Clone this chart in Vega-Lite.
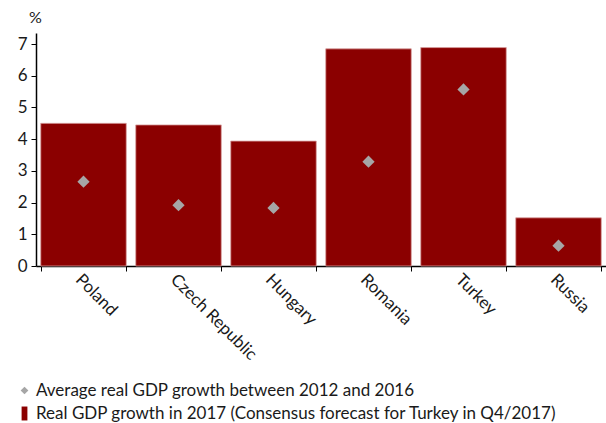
{
  "$schema": "https://vega.github.io/schema/vega-lite/v6.json",
  "width": 570,
  "height": 233,
  "autosize": {"type": "none"},
  "padding": {"left": 36, "top": 33, "right": 0, "bottom": 157},
  "background": "white",
  "config": {
    "view": {"stroke": null},
    "font": "Lato",
    "axis": {"labelFont": "Lato", "titleFont": "Lato", "labelColor": "#1a1a1a", "titleColor": "#1a1a1a", "grid": false, "domainColor": "#000", "tickColor": "#000"},
    "legend": {"labelFont": "Lato", "labelColor": "#1a1a1a"}
  },
  "data": {
    "values": [
      {"country": "Poland", "series": "Real GDP growth in 2017 (Consensus forecast for Turkey in Q4/2017)", "value": 4.50},
      {"country": "Czech Republic", "series": "Real GDP growth in 2017 (Consensus forecast for Turkey in Q4/2017)", "value": 4.45},
      {"country": "Hungary", "series": "Real GDP growth in 2017 (Consensus forecast for Turkey in Q4/2017)", "value": 3.94},
      {"country": "Romania", "series": "Real GDP growth in 2017 (Consensus forecast for Turkey in Q4/2017)", "value": 6.85},
      {"country": "Turkey", "series": "Real GDP growth in 2017 (Consensus forecast for Turkey in Q4/2017)", "value": 6.89},
      {"country": "Russia", "series": "Real GDP growth in 2017 (Consensus forecast for Turkey in Q4/2017)", "value": 1.52},
      {"country": "Poland", "series": "Average real GDP growth between 2012 and 2016", "value": 2.66},
      {"country": "Czech Republic", "series": "Average real GDP growth between 2012 and 2016", "value": 1.92},
      {"country": "Hungary", "series": "Average real GDP growth between 2012 and 2016", "value": 1.83},
      {"country": "Romania", "series": "Average real GDP growth between 2012 and 2016", "value": 3.29},
      {"country": "Turkey", "series": "Average real GDP growth between 2012 and 2016", "value": 5.57},
      {"country": "Russia", "series": "Average real GDP growth between 2012 and 2016", "value": 0.64}
    ]
  },
  "encoding": {
    "x": {
      "field": "country", "type": "nominal", "sort": null,
      "scale": {"paddingInner": 0.1, "paddingOuter": 0.05},
      "axis": {"title": null, "labelAngle": 45, "labelAlign": "left", "labelBaseline": "top", "labelFontSize": 17, "labelPadding": 0, "tickBand": "extent", "tickSize": 5, "domainWidth": 1.5}
    },
    "y": {
      "field": "value", "type": "quantitative",
      "scale": {"domain": [0, 7.35], "nice": false},
      "axis": {"values": [0, 1, 2, 3, 4, 5, 6, 7], "title": "%", "titleAngle": 0, "titleX": -1, "titleY": -8, "titleAlign": "center", "titleBaseline": "bottom", "titleFontSize": 16, "titleFontWeight": "normal", "labelFontSize": 17, "labelPadding": 4, "tickSize": 5, "domainWidth": 1.5}
    },
    "color": {
      "field": "series", "type": "nominal",
      "scale": {"domain": ["Average real GDP growth between 2012 and 2016", "Real GDP growth in 2017 (Consensus forecast for Turkey in Q4/2017)"], "range": ["#A6A6A6", "#8B0000"]},
      "legend": {"title": null, "orient": "none", "legendX": -20, "legendY": 349, "direction": "vertical", "labelFontSize": 17, "labelLimit": 0, "rowPadding": 5, "symbolSize": 60, "labelOffset": 3, "symbolStrokeWidth": 0}
    }
  },
  "layer": [
    {
      "transform": [{"filter": "datum.series === 'Real GDP growth in 2017 (Consensus forecast for Turkey in Q4/2017)'"}],
      "mark": {"type": "bar", "stroke": "#d8a0a0", "strokeWidth": 0.8}
    },
    {
      "transform": [{"filter": "datum.series === 'Average real GDP growth between 2012 and 2016'"}],
      "mark": {"type": "point", "filled": true, "opacity": 1, "size": 150},
      "encoding": {
        "shape": {
          "field": "series", "type": "nominal",
          "scale": {"domain": ["Average real GDP growth between 2012 and 2016", "Real GDP growth in 2017 (Consensus forecast for Turkey in Q4/2017)"], "range": ["diamond", "M-0.75,-1.8V1.8H0.75V-1.8Z"]},
          "legend": {"title": null}
        }
      }
    }
  ]
}
